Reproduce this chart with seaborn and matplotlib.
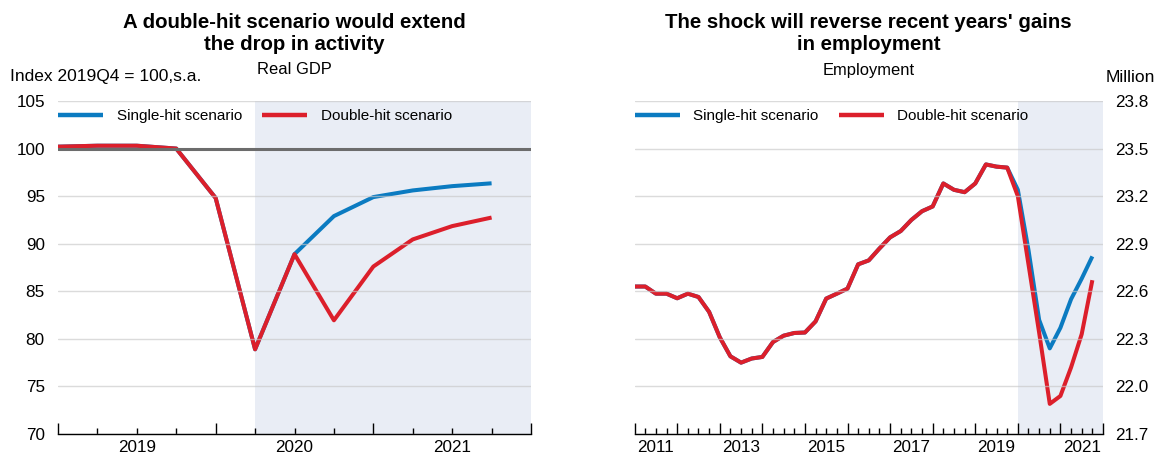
import matplotlib
matplotlib.use("Agg")
import matplotlib.pyplot as plt
from matplotlib.lines import Line2D
from matplotlib.ticker import FixedLocator, MultipleLocator
import numpy as np
import pandas as pd
import seaborn as sns

# ---- Real GDP, index 2019Q4 = 100 ----
gdp_quarters = ["2019Q1", "2019Q2", "2019Q3", "2019Q4",
                "2020Q1", "2020Q2", "2020Q3", "2020Q4",
                "2021Q1", "2021Q2", "2021Q3", "2021Q4"]
gdp_single = [100.2, 100.3, 100.3, 100.0, 94.8, 78.9,
              88.9, 92.9, 94.9, 95.6, 96.05, 96.35]
gdp_double = [100.2, 100.3, 100.3, 100.0, 94.8, 78.9,
              88.9, 81.95, 87.6, 90.45, 91.85, 92.75]
gdp_year_labels = ["2019", "2020", "2021"]

# ---- Employment, millions ----
emp_quarters = [f"{y}Q{q}" for y in range(2011, 2022) for q in range(1, 5)]
emp_double = [22.63, 22.63, 22.585, 22.585, 22.556, 22.585, 22.564, 22.47,
              22.31, 22.19, 22.15, 22.176, 22.186, 22.28, 22.32, 22.337,
              22.34, 22.41, 22.554, 22.585, 22.617, 22.77, 22.795, 22.87,
              22.94, 22.98, 23.05, 23.105, 23.135, 23.28, 23.24, 23.225,
              23.28, 23.40, 23.386, 23.38, 23.20, 22.77, 22.34, 21.89,
              21.94, 22.12, 22.33, 22.67]
emp_single = emp_double[:36] + [23.24, 22.86, 22.42, 22.24,
                                22.37, 22.55, 22.68, 22.82]
emp_year_labels = ["2011", "2013", "2015", "2017", "2019", "2021"]

series_names = ["Single-hit scenario", "Double-hit scenario"]

BLUE = "#0B7BC1"
RED = "#DC1F2B"
SHADE = "#E9EDF5"
GRID = "#C8C8C8"

sns.set_theme(style="white")
plt.rcParams["font.family"] = ["Liberation Sans", "DejaVu Sans"]
plt.rcParams["text.color"] = "black"
plt.rcParams["xtick.color"] = "black"
plt.rcParams["ytick.color"] = "black"
plt.rcParams["xtick.labelcolor"] = "black"
plt.rcParams["ytick.labelcolor"] = "black"


def quarter_pos(labels):
    return [int(s[:4]) + (int(s[-1]) - 1) / 4 for s in labels]


W, H = 1157, 454
fig = plt.figure(figsize=(W / 100, H / 100), dpi=100)
ax1 = fig.add_axes([58 / W, 20 / H, 473 / W, 333 / H])
ax2 = fig.add_axes([634.6 / W, 20 / H, 468.4 / W, 333 / H])

gdp = pd.DataFrame({"t": quarter_pos(gdp_quarters),
                    series_names[0]: gdp_single,
                    series_names[1]: gdp_double})
emp = pd.DataFrame({"t": quarter_pos(emp_quarters),
                    series_names[0]: emp_single,
                    series_names[1]: emp_double})

LW = 2.9
for ax, df in ((ax1, gdp), (ax2, emp)):
    sns.lineplot(data=df, x="t", y=series_names[0], ax=ax, color=BLUE,
                 lw=LW, solid_capstyle="butt", legend=False)
    sns.lineplot(data=df, x="t", y=series_names[1], ax=ax, color=RED,
                 lw=LW, solid_capstyle="butt", legend=False)

# forecast shading
ax1.axvspan(2020.25, 2022.0, color=SHADE, lw=0, zorder=0.5)
ax2.axvspan(2020.0, 2022.0, color=SHADE, lw=0, zorder=0.5)

# reference line at 100
ax1.axhline(100, color="#6c6c6c", lw=2.2, zorder=3)

TICK_FS = 12.3
for ax in (ax1, ax2):
    ax.set_xlabel("")
    ax.set_ylabel("")
    ax.set_axisbelow(False)
    ax.grid(axis="y", color=GRID, lw=1.0, alpha=0.65)
    ax.grid(axis="x", visible=False)
    for side in ("top", "left", "right"):
        ax.spines[side].set_visible(False)
    ax.spines["bottom"].set_color("black")
    ax.spines["bottom"].set_linewidth(1.0)
    ax.spines["bottom"].set_zorder(4)
    ax.xaxis.set_minor_locator(MultipleLocator(0.25))
    ax.tick_params(axis="x", which="major", direction="in", length=8,
                   width=1, color="black", bottom=True, labelbottom=False)
    ax.tick_params(axis="x", which="minor", direction="in", length=4,
                   width=1, color="black", bottom=True)
    ax.set_facecolor("white")

# left panel axes
ax1.set_xlim(2019.0, 2022.0)
ax1.xaxis.set_major_locator(FixedLocator([2019, 2020, 2021, 2022]))
ax1.set_ylim(70, 105)
ax1.set_yticks(np.arange(70, 106, 5))
ax1.tick_params(axis="y", length=0, pad=9.5, labelsize=TICK_FS)
sec1 = ax1.secondary_xaxis("bottom")
sec1.set_xticks([2019.5, 2020.5, 2021.5], gdp_year_labels)
sec1.tick_params(length=0, pad=4, labelsize=TICK_FS)
sec1.spines["bottom"].set_visible(False)

# right panel axes
ax2.set_xlim(2011.0, 2022.0)
ax2.xaxis.set_major_locator(FixedLocator(list(range(2011, 2023))))
ax2.set_ylim(21.7, 23.8)
emp_ticks = np.round(np.arange(21.7, 23.81, 0.3), 1)
ax2.set_yticks(emp_ticks, [f"{v:.1f}" for v in emp_ticks])
ax2.yaxis.tick_right()
ax2.tick_params(axis="y", length=0, pad=8.6, labelsize=TICK_FS)
sec2 = ax2.secondary_xaxis("bottom")
sec2.set_xticks([int(y) + 0.5 for y in emp_year_labels], emp_year_labels)
sec2.tick_params(length=0, pad=4, labelsize=TICK_FS)
sec2.spines["bottom"].set_visible(False)

# legends
handles = [Line2D([], [], color=BLUE, lw=3.2, solid_capstyle="butt"),
           Line2D([], [], color=RED, lw=3.2, solid_capstyle="butt")]
for ax in (ax1, ax2):
    ax.legend(handles, series_names, loc="center left",
              bbox_to_anchor=(0, 1 - 15 / 333), ncol=2, frameon=False,
              handlelength=2.95, handletextpad=0.9, columnspacing=1.3,
              borderpad=0, borderaxespad=0, fontsize=11)


def fy(py):
    return 1 - py / H


# titles and annotations
fig.text(294.5 / W, fy(33), "A double-hit scenario would extend\nthe drop in activity",
         ha="center", va="center", fontsize=14.7, fontweight="bold",
         linespacing=1.2)
fig.text(294.5 / W, fy(70), "Real GDP", ha="center", va="center", fontsize=11.9)
fig.text(10 / W, fy(77), "Index 2019Q4 = 100,s.a.", ha="left", va="center",
         fontsize=12.5)

fig.text(868.8 / W, fy(33), "The shock will reverse recent years' gains\nin employment",
         ha="center", va="center", fontsize=14.7, fontweight="bold",
         linespacing=1.2)
fig.text(868.8 / W, fy(70), "Employment", ha="center", va="center", fontsize=11.9)
fig.text(1155 / W, fy(77), "Million", ha="right", va="center", fontsize=12.5)

fig.savefig("out.png", dpi=100, facecolor="white")
